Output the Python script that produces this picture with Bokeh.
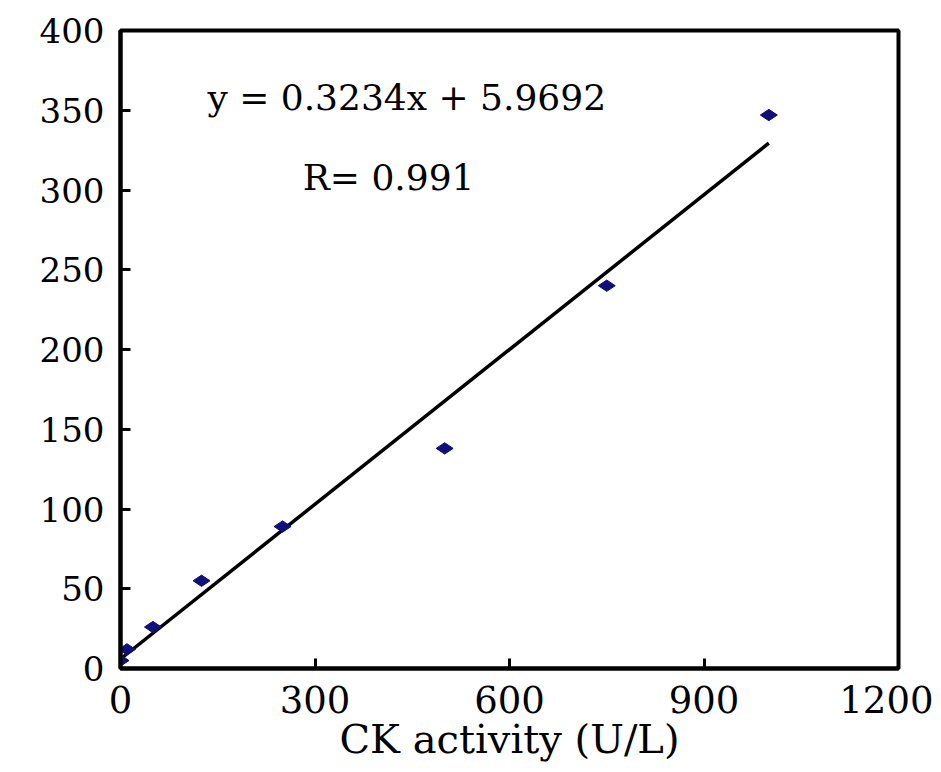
import math
from bokeh.plotting import figure
from bokeh.models import FixedTicker
from bokeh.core.properties import value
from bokeh.embed import file_html
from bokeh.resources import INLINE

# Data
ck_activity = [0, 10, 50, 125, 250, 500, 750, 1000]
signal = [5, 12, 26, 55, 89, 138, 240, 347]
slope = 0.3234
intercept = 5.9692
fit_x = [0, 1000]
x_ticks = [0, 300, 600, 900, 1200]
y_ticks = [0, 50, 100, 150, 200, 250, 300, 350, 400]
eq_text = "y = 0.3234x + 5.9692"
r_text = "R= 0.991"
x_label = "CK activity (U/L)"

FONT = "DejaVu Serif"

p = figure(
    output_backend="svg",
    toolbar_location=None,
    frame_width=778,
    frame_height=638,
    min_border_left=120,
    min_border_right=35,
    min_border_top=30,
    min_border_bottom=104,
    x_range=(0, 1200),
    y_range=(0, 400),
    background_fill_color="white",
    border_fill_color="white",
)

p.grid.visible = False
p.outline_line_color = "black"
p.outline_line_width = 4

for ax in (p.xaxis[0], p.yaxis[0]):
    ax.axis_line_width = 4
    ax.axis_line_color = "black"
    ax.major_tick_in = 10
    ax.major_tick_out = 0
    ax.major_tick_line_width = 3
    ax.major_tick_line_color = "black"
    ax.minor_tick_line_color = None
    ax.major_label_text_font = FONT
    ax.major_label_text_color = "black"

p.xaxis.ticker = FixedTicker(ticks=x_ticks)
p.yaxis.ticker = FixedTicker(ticks=y_ticks)
p.xaxis.major_label_text_font_size = "37px"
p.yaxis.major_label_text_font_size = "34px"
p.xaxis.major_label_standoff = 17
p.yaxis.major_label_standoff = 16
p.xaxis.axis_label = x_label
p.xaxis.axis_label_text_font = FONT
p.xaxis.axis_label_text_font_size = "40px"
p.xaxis.axis_label_text_font_style = "normal"
p.xaxis.axis_label_text_color = "black"
p.xaxis.axis_label_standoff = 0

fit_y = [slope * x + intercept for x in fit_x]
p.line(fit_x, fit_y, line_color="black", line_width=3.5)

p.scatter(ck_activity, signal, marker="diamond", size=17, angle=math.pi / 2,
          fill_color="#10107a", line_color="#10107a")

p.text(x=[134], y=[358], text=[eq_text], text_font=value(FONT),
       text_font_size="36px", text_baseline="alphabetic", text_align="left",
       text_color="black")
p.text(x=[281], y=[308], text=[r_text], text_font=value(FONT),
       text_font_size="36px", text_baseline="alphabetic", text_align="left",
       text_color="black")

open("out.html", "w").write(file_html(p, INLINE))
